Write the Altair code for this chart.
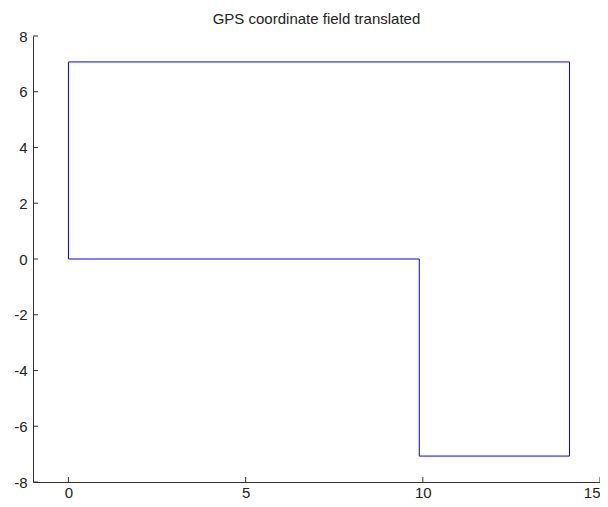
import altair as alt
import pandas as pd

xs = [0, 0, 14.14, 14.14, 9.9, 9.9, 0]
ys = [0, 7.07, 7.07, -7.07, -7.07, 0, 0]
order = list(range(len(xs)))
x_ticks = [0, 5, 10, 15]
y_ticks = [-8, -6, -4, -2, 0, 2, 4, 6, 8]

df = pd.DataFrame({"x": xs, "y": ys, "i": order})
xt = pd.DataFrame({"v": x_ticks})
yt = pd.DataFrame({"v": y_ticks})

W, H = 567, 446
FONT = "Liberation Sans"
AX = "#333333"

xscale = alt.Scale(domain=[-1, 15], nice=False, zero=False)
yscale = alt.Scale(domain=[-8, 8], nice=False, zero=False)

base_axis = dict(labelFont=FONT, labelFontSize=15, labelColor="#222222",
                 domainColor=AX, domainWidth=1, grid=False, ticks=False, title=None,
                 labelExpr="replace(datum.label, '\u2212', '-')")

main = alt.Chart(df).mark_line(color="#0000ff", strokeWidth=1).encode(
    x=alt.X("x:Q", scale=xscale,
            axis=alt.Axis(values=x_ticks, labelPadding=3,
                          labelAlign={"condition": {"test": "datum.value == 15", "value": "right"},
                                      "value": "center"},
                          **base_axis)),
    y=alt.Y("y:Q", scale=yscale,
            axis=alt.Axis(values=y_ticks, labelPadding=6, **base_axis)),
    order="i:O",
)

xtick_marks = alt.Chart(xt).mark_rule(color=AX, strokeWidth=1).encode(
    x=alt.X("v:Q", scale=xscale),
    y=alt.value(H),
    y2=alt.value(H - 5),
)

ytick_marks = alt.Chart(yt).mark_rule(color=AX, strokeWidth=1).encode(
    y=alt.Y("v:Q", scale=yscale),
    x=alt.value(0),
    x2=alt.value(5),
)

chart = alt.layer(main, xtick_marks, ytick_marks).properties(
    width=W, height=H,
    background="white",
    autosize=alt.AutoSizeParams(type="none"),
    padding={"left": 25, "top": 28, "right": 0, "bottom": 17},
    title=alt.Title("GPS coordinate field translated", font=FONT, fontSize=15,
                    fontWeight="normal", color="#222222", offset=0, dy=-2),
).configure_view(stroke=None)

chart.save("out.html", embed_options={"renderer": "svg", "actions": False})
